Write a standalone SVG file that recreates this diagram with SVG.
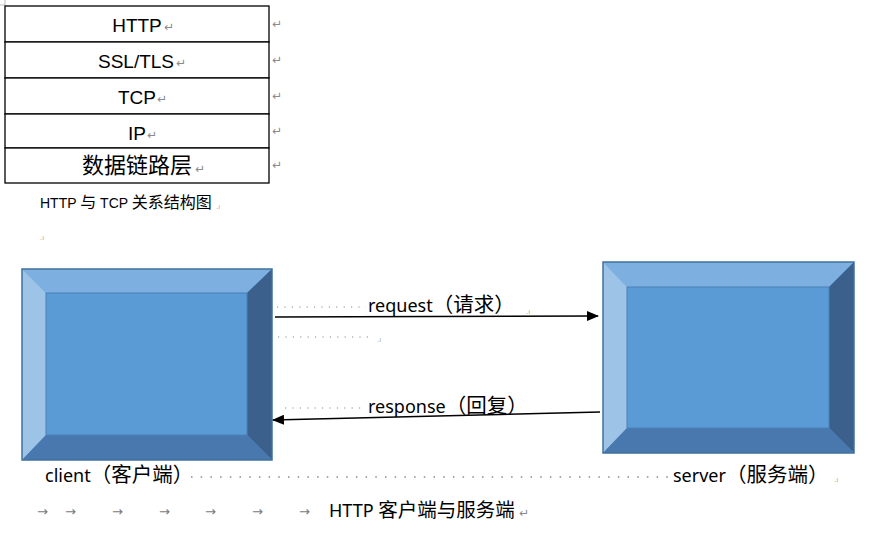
<svg xmlns="http://www.w3.org/2000/svg" width="887" height="535" viewBox="0 0 887 535">
<style>
.cell{fill:#fff;stroke:#000;stroke-width:1.3}
.lt{font-family:"Liberation Sans","Noto Sans CJK SC",sans-serif;font-size:19px;fill:#000;text-anchor:middle}
.cjk{font-family:"Noto Sans CJK SC","Noto Sans",sans-serif;font-size:22px;fill:#000;text-anchor:middle}
.lbl{font-family:"Noto Sans","Noto Sans CJK SC",sans-serif;font-size:18px;fill:#000}
.c{font-family:"Noto Sans CJK SC",sans-serif;font-size:20.5px}
.cap{font-family:"Liberation Sans","Noto Sans CJK SC",sans-serif;font-size:14px;fill:#000}
.cc{font-family:"Noto Sans CJK SC",sans-serif;font-size:16px}
.pm{font-family:"DejaVu Sans",sans-serif;font-size:12px;fill:#8a8a8a}
.pmx{font-family:"DejaVu Sans",sans-serif;font-size:7px;fill:#a0a0a0}
.tab{font-family:"DejaVu Sans",sans-serif;font-size:13px;fill:#7a7a7a}
.dots{stroke:#8a8a8a;stroke-width:1.2;stroke-dasharray:1.2 6.2;fill:none}
.dots2{stroke:#8a8a8a;stroke-width:1.5;stroke-dasharray:1.5 8.2;fill:none}
.arr{stroke:#000;stroke-width:1.6;fill:none}
.inner{fill:#5B9BD5}
.btop{fill:#7DAFE0}
.bleft{fill:#9DC3E6}
.bright{fill:#3A608B}
.bbot{fill:#4878AE}
.frame{fill:none;stroke:#41719C;stroke-width:1.5}
</style>
<defs>
<marker id="ah" markerWidth="12" markerHeight="10" refX="11" refY="5" orient="auto" markerUnits="userSpaceOnUse">
<path d="M0,0 L12,5 L0,10 Z" fill="#000"/>
</marker>
</defs>
<rect width="887" height="535" fill="#fff"/>
<path d="M0 5 H5 V0" stroke="#bbb" stroke-width="1" fill="none"/>

<g id="layer-http">
<rect class="cell" x="5" y="6" width="264" height="36"/>
<text class="lt" x="137" y="32">HTTP</text>
<text class="pm" x="164" y="31">↵</text>
</g>
<g id="layer-ssl">
<rect class="cell" x="5" y="42" width="264" height="36"/>
<text class="lt" x="136" y="68">SSL/TLS</text>
<text class="pm" x="176" y="67">↵</text>
</g>
<g id="layer-tcp">
<rect class="cell" x="5" y="78" width="264" height="36"/>
<text class="lt" x="137" y="104">TCP</text>
<text class="pm" x="157" y="103">↵</text>
</g>
<g id="layer-ip">
<rect class="cell" x="5" y="114" width="264" height="34"/>
<text class="lt" x="137" y="140">IP</text>
<text class="pm" x="147" y="139">↵</text>
</g>
<g id="layer-link">
<rect class="cell" x="5" y="148" width="264" height="35"/>
<text class="cjk" x="137" y="173">数据链路层</text>
<text class="pm" x="195" y="173">↵</text>
</g>
<g id="margin-marks">
<text class="pm" x="272" y="28">↵</text>
<text class="pm" x="272" y="64">↵</text>
<text class="pm" x="272" y="100">↵</text>
<text class="pm" x="272" y="135">↵</text>
<text class="pm" x="272" y="169">↵</text>
</g>
<g id="caption">
<text class="cap" x="40" y="208">HTTP <tspan class="cc">与</tspan> TCP <tspan class="cc">关系结构图</tspan></text>
<text class="pmx" x="216" y="209">.ı</text>
<text class="pmx" x="40" y="240">.ı</text>
</g>

<g id="client">
<rect class="inner" x="22" y="269" width="250" height="191"/>
<polygon class="btop" points="22,269 272,269 247,293 46,293"/>
<polygon class="bleft" points="22,269 46,293 46,435 22,460"/>
<polygon class="bright" points="272,269 272,460 247,435 247,293"/>
<polygon class="bbot" points="22,460 46,435 247,435 272,460"/>
<rect x="46" y="293" width="201" height="142" fill="none" stroke="#4A80B8" stroke-width="1"/>
<rect class="frame" x="22" y="269" width="250" height="191"/>
<text class="lbl" x="45" y="482">client<tspan class="c">（客户端）</tspan></text>
</g>

<g id="server">
<rect class="inner" x="603" y="262" width="251" height="191"/>
<polygon class="btop" points="603,262 854,262 829,287 627,287"/>
<polygon class="bleft" points="603,262 627,287 627,428 603,453"/>
<polygon class="bright" points="854,262 854,453 829,428 829,287"/>
<polygon class="bbot" points="603,453 627,428 829,428 854,453"/>
<rect x="627" y="287" width="202" height="141" fill="none" stroke="#4A80B8" stroke-width="1"/>
<rect class="frame" x="603" y="262" width="251" height="191"/>
<text class="lbl" x="673" y="482">server<tspan class="c">（服务端）</tspan></text>
<text class="pmx" x="834" y="482">.ı</text>
</g>

<g id="connectors">
<line class="dots" x1="277" y1="307" x2="366" y2="307"/>
<line class="arr" x1="275" y1="317" x2="598" y2="316" marker-end="url(#ah)"/>
<text class="lbl" x="368" y="312">request<tspan class="c">（请求）</tspan></text>
<text class="pmx" x="526" y="314">.ı</text>
<line class="dots" x1="278" y1="337" x2="374" y2="337"/>
<text class="pmx" x="377" y="342">.ı</text>
<line class="dots" x1="285" y1="408" x2="362" y2="408"/>
<line class="arr" x1="600" y1="412" x2="273" y2="420" marker-end="url(#ah)"/>
<text class="lbl" x="368" y="413">response<tspan class="c">（回复）</tspan></text>
<text class="pmx" x="543" y="413">.</text>
<line class="dots2" x1="191" y1="477" x2="668" y2="477"/>
</g>

<g id="footer">
<text class="tab" x="37" y="516">→</text>
<text class="tab" x="65" y="516">→</text>
<text class="tab" x="112" y="516">→</text>
<text class="tab" x="159" y="516">→</text>
<text class="tab" x="205" y="516">→</text>
<text class="tab" x="252" y="516">→</text>
<text class="tab" x="299" y="516">→</text>
<text class="lbl" x="329" y="517">HTTP <tspan class="c" style="font-size:19.5px">客户端与服务端</tspan></text>
<text class="pm" x="519" y="517">↵</text>
</g>
</svg>
